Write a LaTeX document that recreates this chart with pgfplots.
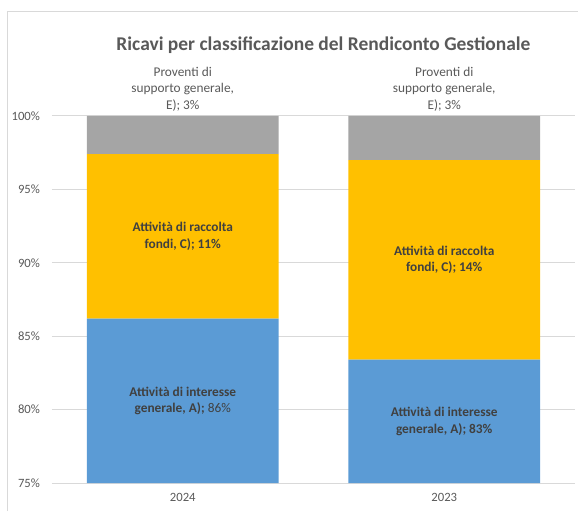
\documentclass[border=0pt]{standalone}
\usepackage{pgfplots}
\pgfplotsset{compat=1.18}
\usepackage{fontspec}
\setmainfont{Carlito}

\definecolor{serA}{HTML}{5B9BD5}
\definecolor{serC}{HTML}{FFC000}
\definecolor{serE}{HTML}{A5A5A5}
\definecolor{gridc}{HTML}{D9D9D9}
\definecolor{labc}{HTML}{595959}
\definecolor{inlab}{HTML}{404040}

\tikzset{
  lab/.style={font=\fontsize{10}{12.5}\selectfont\bfseries, text=inlab, align=center},
  elab/.style={font=\fontsize{10}{12.5}\selectfont, text=labc, align=center, anchor=south},
}

\begin{document}
\begin{tikzpicture}
  \useasboundingbox (-39pt,-21pt) rectangle (394.5pt,362.25pt);
  % chart area frame
  \draw[gridc, line width=0.75pt] (-33pt,-21pt) -- (-33pt,353.25pt) -- (394.5pt,353.25pt);

  \begin{axis}[
    at={(0,0)}, anchor=south west,
    scale only axis,
    width=392.25pt, height=275.25pt,
    ybar stacked,
    bar width=0.734,
    xmin=-0.5, xmax=1.5,
    ymin=75, ymax=100,
    xtick={0,1},
    xticklabels={2024,2023},
    ytick={75,80,...,100},
    yticklabel={\pgfmathprintnumber{\tick}\%},
    /pgf/number format/assume math mode=true,
    ymajorgrids,
    grid style={draw=gridc, line width=0.75pt},
    axis line style={draw=none},
    tick style={draw=none},
    ticklabel style={font=\fontsize{9.5}{11}\selectfont, text=labc},
    yticklabel style={xshift=-5.5pt},
    xticklabel style={yshift=-4pt},
    clip mode=individual,
  ]
    % A) Attivita di interesse generale
    \addplot[fill=serA, draw=none] coordinates {(0,86.2) (1,83.4)};
    % C) Attivita di raccolta fondi
    \addplot[fill=serC, draw=none] coordinates {(0,11.2) (1,13.6)};
    % E) Proventi di supporto generale
    \addplot[fill=serE, draw=none] coordinates {(0,2.6) (1,3.0)};

    \coordinate (c24) at (axis cs:0,91.8);
    \coordinate (a24) at (axis cs:0,80.6);
    \coordinate (c23) at (axis cs:1,90.2);
    \coordinate (a23) at (axis cs:1,79.2);
    \coordinate (e24) at (axis cs:0,100);
    \coordinate (e23) at (axis cs:1,100);
  \end{axis}

  \node[lab] at (c24) {Attività di raccolta\\fondi, C); 11\%};
  \node[lab] at (a24) {Attività di interesse\\generale, A);\textmd{ 86\%}};
  \node[lab] at (c23) {Attività di raccolta\\fondi, C); 14\%};
  \node[lab] at (a23) {Attività di interesse\\generale, A); 83\%};
  \node[elab] at (e24) {Proventi di\\supporto generale,\\E); 3\%};
  \node[elab] at (e23) {Proventi di\\supporto generale,\\E); 3\%};

  \node[anchor=base, font=\fontsize{14.6}{17}\selectfont\bfseries, text=labc] at (203.6pt,324pt)
    {Ricavi per classificazione del Rendiconto Gestionale};
\end{tikzpicture}
\end{document}
